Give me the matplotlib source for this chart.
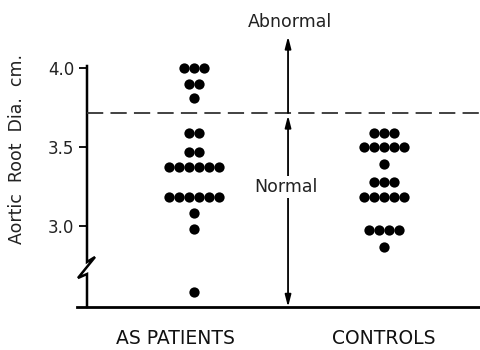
import matplotlib
matplotlib.use("Agg")
import matplotlib.pyplot as plt
import numpy as np

# aortic root diameter (cm), one row of dots per value
patients_vals = [4.00, 3.90, 3.81, 3.59, 3.47, 3.375, 3.185, 3.08, 2.98, 2.58]
patients_counts = [3, 2, 1, 2, 2, 6, 6, 1, 1, 1]
controls_vals = [3.59, 3.50, 3.39, 3.28, 3.185, 2.975, 2.87]
controls_counts = [3, 5, 1, 3, 5, 4, 1]
groups = ["AS PATIENTS", "CONTROLS"]
y_ticks = [3.0, 3.5, 4.0]
normal_limit = 3.715

plt.rcParams["font.family"] = "DejaVu Sans"
fig = plt.figure(figsize=(4.81, 3.5), dpi=100)
W, H = 481, 350
L, R, B, T = 87, 481, 307, 0
ax = fig.add_axes([L / W, (H - B) / H, (R - L) / W, (B - T) / H])
ax.set_xlim(-0.563, 1.5105)
ax.set_ylim(2.4873, 4.4304)


def px(x, y):
    # pixel position -> axes fraction
    return (x - L) / (R - L), (B - y) / (B - T)


step = 0.0526
for gx, vals, counts in [(0, patients_vals, patients_counts),
                         (1, controls_vals, controls_counts)]:
    for v, n in zip(vals, counts):
        xs = gx + (np.arange(n) - (n - 1) / 2) * step
        ax.plot(xs, [v] * n, "o", color="black", ms=7.4, mew=0)

for s in ax.spines.values():
    s.set_visible(False)

# left spine with break
brk = [px(87, 66), px(87, 262), px(95, 257), px(78, 278), px(87, 274), px(87, 307)]
bx, by = zip(*brk)
ax.plot(bx, by, color="black", lw=1.8, transform=ax.transAxes, clip_on=False,
        solid_joinstyle="miter")
# bottom line
bx0, _ = px(77, 307)
ax.plot([bx0, 1], [0, 0], color="black", lw=2, transform=ax.transAxes, clip_on=False)

ax.axhline(normal_limit, color="#333333", lw=1.3, dashes=(9, 4))

ax.set_yticks(y_ticks)
ax.set_yticklabels([f"{t:.1f}" for t in y_ticks], fontsize=12, color="#222222")
ax.tick_params(axis="y", length=6, width=1.3, pad=3, direction="out")
ax.set_xticks([-0.1, 1.0])
ax.set_xticklabels(groups, fontsize=13.5, color="#111111")
ax.tick_params(axis="x", length=0, pad=16)

ax.set_ylabel("Aortic  Root  Dia.  cm.", fontsize=12.5, color="#222222")
ax.yaxis.set_label_coords(-0.155, 0.515)

# arrows
ax_x = 0.495
ax.annotate("", xy=(ax_x, 4.2), xytext=(ax_x, normal_limit),
            arrowprops=dict(arrowstyle="-|>,head_length=0.7,head_width=0.18",
                            color="black", lw=1.3, shrinkA=0, shrinkB=0))
ax.annotate("", xy=(ax_x, 3.70), xytext=(ax_x, 2.4873),
            arrowprops=dict(arrowstyle="<|-|>,head_length=0.7,head_width=0.18",
                            color="black", lw=1.3, shrinkA=0, shrinkB=0))
ax.text(ax_x + 0.01, 4.291, "Abnormal", ha="center", va="center", fontsize=12.5,
        color="#222222")
ax.text(ax_x - 0.01, 3.247, "Normal", ha="center", va="center", fontsize=12.5,
        color="#222222", bbox=dict(facecolor="white", edgecolor="none", pad=1.5))

fig.savefig("out.png", dpi=100)
